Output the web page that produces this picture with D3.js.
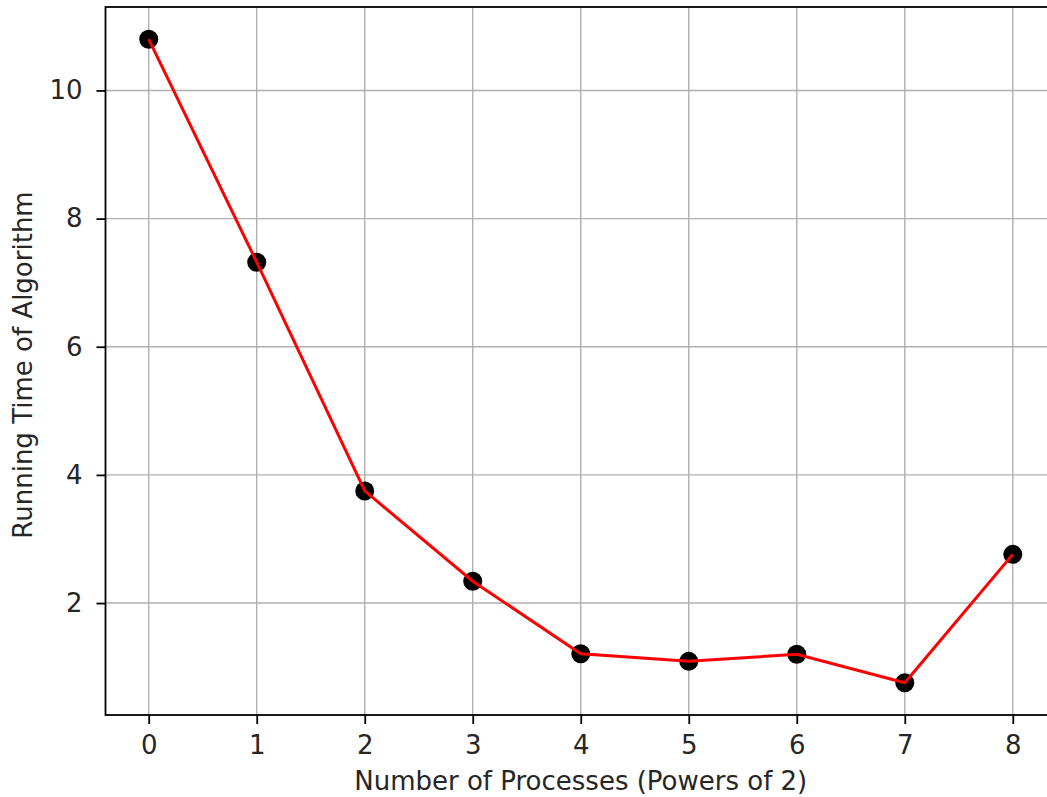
<!DOCTYPE html>
<html>
<head>
<meta charset="utf-8">
<script src="https://cdn.jsdelivr.net/npm/d3@7"></script>
<style>
  body { margin: 0; background: #fff; }
  svg text { font-family: "DejaVu Sans", sans-serif; fill: #262626; }
</style>
</head>
<body>
<svg id="chart" width="1047" height="797"></svg>
<script>
// data
const processes = [0, 1, 2, 3, 4, 5, 6, 7, 8];
const runTimes = [10.80, 7.32, 3.75, 2.34, 1.21, 1.09, 1.20, 0.755, 2.76];
const yTicks = [2, 4, 6, 8, 10];
const xLabel = "Number of Processes (Powers of 2)";
const yLabel = "Running Time of Algorithm";

// chart config
const margin = {top: 7, right: -9, bottom: 82, left: 105.5};
const W = 1047, H = 797;
const fontSize = 26;

const svg = d3.select("#chart");

// matplotlib style 5% margins
const xExt = d3.extent(processes);
const yExt = d3.extent(runTimes);
const xPad = (xExt[1] - xExt[0]) * 0.05;
const yPad = (yExt[1] - yExt[0]) * 0.05;

const x = d3.scaleLinear()
  .domain([xExt[0] - xPad, xExt[1] + xPad])
  .range([margin.left, W - margin.right]);

const y = d3.scaleLinear()
  .domain([yExt[0] - yPad, yExt[1] + yPad])
  .range([H - margin.bottom, margin.top]);

const plotH = H - margin.bottom - margin.top;
const plotW = W - margin.right - margin.left;

// grid
const grid = svg.append("g").attr("class", "grid");
grid.selectAll("line.gx").data(processes).join("line")
  .attr("class", "gx")
  .attr("x1", d => x(d)).attr("x2", d => x(d))
  .attr("y1", margin.top).attr("y2", H - margin.bottom)
  .attr("stroke", "#b0b0b0").attr("stroke-width", 1.4);
grid.selectAll("line.gy").data(yTicks).join("line")
  .attr("class", "gy")
  .attr("x1", margin.left).attr("x2", W - margin.right)
  .attr("y1", d => y(d)).attr("y2", d => y(d))
  .attr("stroke", "#b0b0b0").attr("stroke-width", 1.4);

// axes
const xAxis = svg.append("g")
  .attr("transform", "translate(0," + (H - margin.bottom) + ")")
  .call(d3.axisBottom(x).tickValues(processes).tickFormat(d3.format("d")).tickSize(9).tickPadding(12));
const yAxis = svg.append("g")
  .attr("transform", "translate(" + margin.left + ",0)")
  .call(d3.axisLeft(y).tickValues(yTicks).tickFormat(d3.format("d")).tickSize(9).tickPadding(14));

[xAxis, yAxis].forEach(a => {
  a.select(".domain").remove();
  a.selectAll(".tick line").attr("stroke", "#000").attr("stroke-width", 1.8);
  a.selectAll(".tick text").attr("font-size", fontSize).attr("fill", "#262626")
    .attr("font-family", "DejaVu Sans, sans-serif");
});

// spines
svg.append("rect")
  .attr("x", margin.left).attr("y", margin.top)
  .attr("width", plotW).attr("height", plotH)
  .attr("fill", "none").attr("stroke", "#000").attr("stroke-width", 1.8);

// points
svg.append("g").selectAll("circle").data(processes).join("circle")
  .attr("cx", d => x(d))
  .attr("cy", (d, i) => y(runTimes[i]))
  .attr("r", 9.5)
  .attr("fill", "#000");

// line
const lineGen = d3.line()
  .x(d => x(d[0]))
  .y(d => y(d[1]));
svg.append("path")
  .datum(processes.map((p, i) => [p, runTimes[i]]))
  .attr("fill", "none")
  .attr("stroke", "#ff0000")
  .attr("stroke-width", 3)
  .attr("d", lineGen);

// labels
svg.append("text")
  .attr("x", margin.left + plotW / 2).attr("y", 790)
  .attr("text-anchor", "middle").attr("font-size", fontSize)
  .text(xLabel);

svg.append("text")
  .attr("transform", "translate(32," + (margin.top + plotH / 2 + 4) + ") rotate(-90)")
  .attr("text-anchor", "middle").attr("font-size", fontSize)
  .text(yLabel);
</script>
</body>
</html>
